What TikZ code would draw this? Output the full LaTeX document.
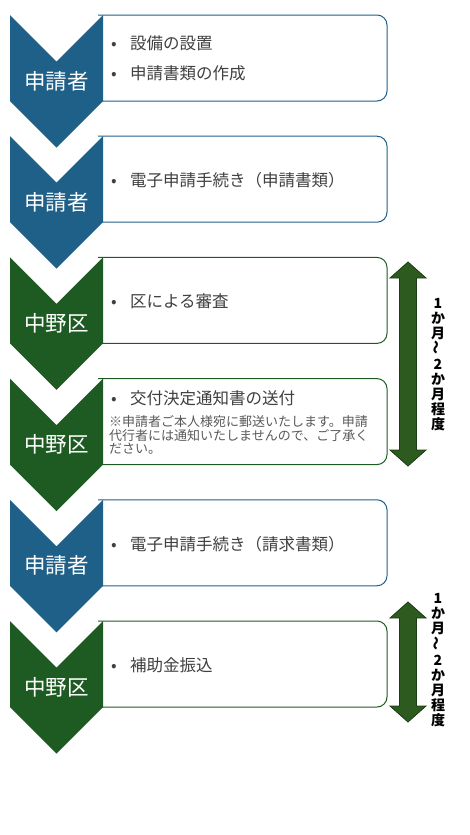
\documentclass[tikz,border=0pt]{standalone}
\usepackage{fontspec}
\setmainfont{Noto Sans CJK JP}
\usetikzlibrary{positioning}
\definecolor{applicant}{HTML}{1F6089}
\definecolor{ward}{HTML}{1E5B22}
\definecolor{spanfill}{HTML}{2D5A1F}
\definecolor{spanedge}{HTML}{1C3D12}
\definecolor{bodytext}{HTML}{404040}
\definecolor{notetext}{HTML}{595959}

\begin{document}
\begin{tikzpicture}[x=1pt, y=-1pt,
    panel/.style={draw=#1, line width=1pt, fill=white, rounded corners=10pt},
    who/.style={font=\fontsize{21.5}{24}\selectfont, text=white, inner sep=0pt},
    entry/.style={anchor=west, inner sep=0pt, text=bodytext,
                  font=\fontsize{16.5}{20}\selectfont},
    note/.style={anchor=north west, inner sep=0pt, text=notetext, align=left,
                 font=\fontsize{13}{13.5}\selectfont},
    span/.style={draw=spanedge, fill=spanfill, line width=0.8pt},
    period/.style={font=\fontsize{14}{15}\selectfont\bfseries, align=center, inner sep=0pt}
  ]
    \useasboundingbox (0,0) rectangle (470,835);

    % Steps: panel first, chevron on top of its left end
    \foreach \t/\c in {15/applicant, 136.2/applicant, 257.4/ward,
                       378.6/ward, 499.8/applicant, 621/ward} {
      \draw[panel=\c] (98,\t) -- (387,\t) -- (387,\t+86) -- (98,\t+86);
      \fill[\c] (10,\t) -- (56.5,\t+46.5) -- (103,\t) -- (103,\t+86)
        -- (56.5,\t+132.5) -- (10,\t+86) -- cycle;
    }

    % Who acts
    \node[who] (who1) at (56.5,81) {申請者};
    \node[who] (who2) at (56.5,202.2) {申請者};
    \node[who] (who3) at (56.5,323.4) {中野区};
    \node[who] (who4) at (56.5,444.6) {中野区};
    \node[who] (who5) at (56.5,565.8) {申請者};
    \node[who] (who6) at (56.5,687) {中野区};

    % What happens
    \node[entry] (install) at (111,43) {\makebox[19pt][l]{•}設備の設置};
    \node[entry] (prepare) at (111,73) {\makebox[19pt][l]{•}申請書類の作成};
    \node[entry] (apply) at (111,180.2) {\makebox[19pt][l]{•}電子申請手続き（申請書類）};
    \node[entry] (review) at (111,301.4) {\makebox[19pt][l]{•}区による審査};
    \node[entry] (notice) at (111,398) {\makebox[19pt][l]{•}交付決定通知書の送付};
    \node[note] (remark) at (109,415.5) {※申請者ご本人様宛に郵送いたします。申請\\代行者には通知いたしませんので、ご了承く\\ださい。};
    \node[entry] (claim) at (111,543.8) {\makebox[19pt][l]{•}電子申請手続き（請求書類）};
    \node[entry] (payout) at (111,665) {\makebox[19pt][l]{•}補助金振込};

    % Durations
    \draw[span] (408,262) -- ++(18,16) -- ++(-9.5,0) -- ++(0,172) -- ++(9.5,0)
      -- ++(-18,16) -- ++(-18,-16) -- ++(9.5,0) -- ++(0,-172) -- ++(-9.5,0) -- cycle;
    \node[period] (dur1) at (438,364.5) {1\\か\\月\\\rotatebox{90}{～}\\2\\か\\月\\程\\度};

    \draw[span] (408,602) -- ++(18,16) -- ++(-9.5,0) -- ++(0,88) -- ++(9.5,0)
      -- ++(-18,16) -- ++(-18,-16) -- ++(9.5,0) -- ++(0,-88) -- ++(-9.5,0) -- cycle;
    \node[period] (dur2) at (438,660) {1\\か\\月\\\rotatebox{90}{～}\\2\\か\\月\\程\\度};
  \end{tikzpicture}
\end{document}
